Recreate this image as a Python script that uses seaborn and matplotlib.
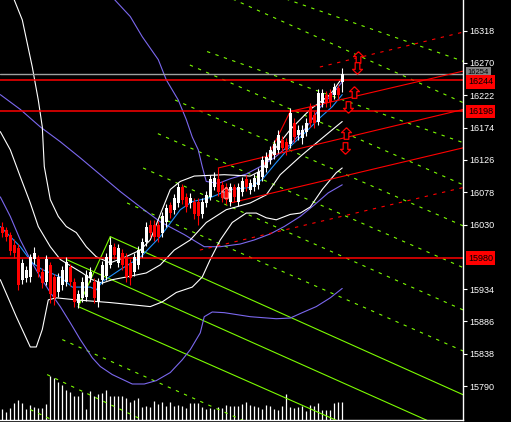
import seaborn as sns
import matplotlib.pyplot as plt
from matplotlib.transforms import blended_transform_factory

# Свечи (индекс бара 0..85)
opens = [16027, 16022, 16015, 16000, 15995, 15948, 15951, 15952, 15978, 15978,
         15960, 15945, 15970, 15952, 15929, 15940, 15945, 15967, 15945, 15914,
         15921, 15923, 15951, 15945, 15915, 15948, 15954, 15970, 15997, 15973,
         15988, 15981, 15973, 15960, 15970, 15988, 16004, 16030, 16030, 16030,
         16018, 16033, 16059, 16052, 16062, 16085, 16071, 16062, 16064, 16064,
         16045, 16062, 16071, 16086, 16097, 16089, 16086, 16064, 16085, 16064,
         16079, 16097, 16082, 16086, 16089, 16101, 16114, 16126, 16134, 16141,
         16156, 16153, 16149, 16181, 16163, 16159, 16168, 16205, 16193, 16183,
         16211, 16223, 16226, 16223, 16233, 16242]
highs = [16033, 16027, 16019, 16008, 16001, 15979, 15968, 15986, 15997, 15985,
         15966, 15984, 15975, 15957, 15958, 15968, 15982, 15972, 15950, 15933,
         15952, 15962, 15967, 15951, 15950, 15976, 15987, 16012, 16003, 16001,
         15994, 15987, 15979, 15988, 15998, 16010, 16033, 16036, 16036, 16035,
         16048, 16061, 16064, 16076, 16092, 16090, 16077, 16077, 16069, 16069,
         16070, 16080, 16103, 16108, 16102, 16094, 16091, 16092, 16090, 16092,
         16100, 16103, 16098, 16105, 16114, 16132, 16137, 16147, 16156, 16170,
         16161, 16159, 16203, 16188, 16178, 16178, 16188, 16211, 16199, 16232,
         16232, 16229, 16231, 16241, 16238, 16263]
lows = [16012, 16005, 15985, 15980, 15933, 15942, 15945, 15945, 15972, 15952,
        15936, 15940, 15914, 15910, 15922, 15933, 15938, 15939, 15908, 15906,
        15915, 15917, 15944, 15913, 15908, 15941, 15948, 15965, 15978, 15967,
        15963, 15944, 15940, 15954, 15964, 15982, 15998, 16012, 16005, 16004,
        16012, 16027, 16040, 16046, 16056, 16060, 16049, 16055, 16038, 16030,
        16039, 16056, 16066, 16081, 16072, 16063, 16060, 16058, 16064, 16058,
        16073, 16080, 16076, 16080, 16083, 16095, 16108, 16120, 16128, 16136,
        16138, 16134, 16143, 16153, 16155, 16150, 16162, 16175, 16174, 16178,
        16205, 16204, 16205, 16217, 16217, 16227]
closes = [16018, 16012, 15990, 15988, 15940, 15973, 15963, 15981, 15988, 15960,
          15943, 15978, 15926, 15921, 15952, 15963, 15975, 15945, 15915, 15926,
          15945, 15955, 15960, 15921, 15945, 15970, 15981, 16000, 15985, 15995,
          15970, 15952, 15951, 15982, 15992, 16004, 16027, 16018, 16012, 16012,
          16042, 16055, 16047, 16070, 16086, 16067, 16056, 16070, 16045, 16042,
          16064, 16074, 16097, 16099, 16079, 16070, 16067, 16086, 16071, 16086,
          16094, 16086, 16092, 16099, 16108, 16126, 16131, 16141, 16149, 16163,
          16144, 16141, 16196, 16160, 16171, 16171, 16181, 16181, 16181, 16226,
          16226, 16211, 16212, 16235, 16223, 16254]
volumes = [110, 80, 120, 170, 200, 170, 110, 150, 130, 120, 120, 160,
           440, 420, 380, 350, 300, 280, 240, 240, 280,
           110, 290, 240, 260, 270, 300, 240, 240, 240, 240,
           220, 180, 200, 220, 130, 140, 130, 190, 160, 180,
           140, 180, 140, 150, 140, 120, 170, 170, 170, 130,
           110, 120, 110, 130, 120, 150, 140, 140, 140, 160,
           180, 150, 140, 130, 110, 150, 140, 110, 100, 140,
           260, 130, 120, 130, 140, 90, 150, 140, 170, 100,
           100, 100, 170, 180, 180]

# Полосы Боллинджера (белые и синяя)
bb_up_x = [2.5, 5, 7.5, 9, 10, 10.5, 12, 14, 16, 18.5, 21, 23.5, 27, 30.5, 34.5, 37, 39.5,
           42, 44.5, 48, 55.5, 62, 65, 68, 72, 77, 82, 85]
bb_up_y = [16371, 16334, 16264, 16215, 16175, 16116, 16067, 16042, 16027, 16018, 15997, 15982,
           15973, 15981, 15992, 16007, 16045, 16082, 16094, 16102, 16104, 16102, 16111, 16141,
           16171, 16201, 16223, 16248]
bb_mid_x = [-0.5, 2, 4.5, 7.5, 10, 14.5, 17.5, 22, 23.5, 25, 29.5, 34.5, 39.5, 44.5, 47.5,
            52, 57, 62, 65, 68.5, 72, 76, 79.5, 82.5, 85]
bb_mid_y = [16027, 16012, 15997, 15973, 15963, 15952, 15937, 15937, 15933, 15945, 15963, 15981,
            16012, 16052, 16064, 16070, 16082, 16085, 16097, 16122, 16146, 16168, 16189, 16205, 16223]
bb_low_x = [-0.5, 2, 4.5, 7, 9, 12, 14.5, 17.5, 20, 22.5, 25, 27.5, 31, 36, 39.5, 43, 47, 51,
            56, 62, 66, 69.5, 74.5, 79.5, 85]
bb_low_y = [16168, 16141, 16101, 16062, 16027, 15997, 15978, 15967, 15958, 15948, 15943, 15948,
            15952, 15958, 15970, 15992, 16007, 16033, 16052, 16062, 16074, 16104, 16131, 16156, 16183]
env_x = [-0.5, 3.5, 7, 8.5, 10, 11.5, 13.5, 18.5, 27, 32, 37, 40, 43.5, 47.5, 50, 52, 54.5,
         57.5, 61, 63.5, 66, 68.5, 72, 74.5, 77, 80, 83.5, 85]
env_y = [15948, 15893, 15848, 15848, 15874, 15918, 15921, 15918, 15914, 15911, 15908, 15915,
         15929, 15937, 15952, 15978, 16007, 16033, 16047, 16047, 16040, 16037, 16045, 16047,
         16056, 16082, 16107, 16114]

# Длинные полосы (фиолетовые)
pu_x = [27, 32, 35, 39, 41, 44, 46, 47.5, 49, 50, 51, 54, 57, 61, 64.5, 68, 72, 76, 79.5, 83, 85]
pu_y = [16371, 16339, 16309, 16275, 16245, 16215, 16186, 16160, 16141, 16116, 16094, 16091,
        16098, 16105, 16116, 16129, 16149, 16174, 16204, 16227, 16242]
pm_x = [-0.5, 4.5, 9.5, 14.5, 19.5, 24.5, 29.5, 34.5, 39.5, 45.5, 50.5, 54.5, 59.5, 63, 67,
        70.5, 74.5, 78, 81.5, 85]
pm_y = [16223, 16201, 16175, 16153, 16129, 16104, 16079, 16056, 16034, 16015, 15997, 15997,
        16001, 16007, 16016, 16027, 16042, 16059, 16077, 16089]
pl_x = [-0.5, 2, 4.5, 7, 9.5, 12, 14.5, 17, 19.5, 22.5, 24.5, 27.5, 32.5, 35.5, 38.5, 42, 45,
        47, 49.5, 50.5, 52.5, 55.5, 62, 68.5, 72, 75, 78.5, 82, 85]
pl_y = [16071, 16042, 16007, 15978, 15952, 15929, 15908, 15884, 15859, 15832, 15819, 15807,
        15793, 15793, 15798, 15810, 15829, 15844, 15869, 15893, 15900, 15899, 15893, 15890,
        15891, 15899, 15908, 15921, 15935]

# Зелёные линии (вилы)
green_solid = [([19, 27], [15908, 16012]),
               ([27, 116], [16012, 15775]),
               ([16, 116], [15978, 15713]),
               ([19, 116], [15908, 15654])]
green_dash_start = [59.5, 55, 51.2, 46.9, 43.2, 38.9, 35.2, 31.2, 15, 11.2, 7]
green_dash_end_x = [116, 116, 116, 116, 116, 116, 116, 116, 62, 36, 12]
green_dash_start_y = [16389, 16372, 16287, 16267, 16215, 16165, 16114, 16062, 15859, 15807, 15755]
green_dash_end_y = [16271, 16209, 16150, 16087, 16026, 15964, 15901, 15840, 15734, 15737, 15741]

# Красные линии
red_levels = [16244, 16198, 15980]
bid_level = 16254
red_solid = [([54, 116], [16114, 16202]),
             ([57, 116], [16062, 16145]),
             ([72, 116], [16198, 16259]),
             ([65, 72], [16114, 16198]),
             ([54, 54], [16114, 16092])]
red_dash = [([79.4, 116], [16264, 16317]),
            ([49.4, 116], [15992, 16086])]
arrows_up_x = [89, 88, 86]
arrows_up_y = [16279, 16227, 16166]
arrows_down_x = [88.7, 86.5, 85.7]
arrows_down_y = [16263, 16205, 16144]

yticks = [15790, 15838, 15886, 15934, 16030, 16078, 16126, 16174, 16222, 16270, 16318]

sns.set_theme(style="dark", rc={"axes.facecolor": "black", "figure.facecolor": "black"})
plt.rcParams['font.family'] = ['Liberation Sans', 'DejaVu Sans']

fig = plt.figure(figsize=(5.11, 4.22), dpi=100, facecolor="black")
ax = fig.add_axes([0, 2 / 422, 463 / 511, 420 / 422])
vol_ax = ax.twinx()
ax.set_zorder(2)
ax.patch.set_visible(False)
vol_ax.set_zorder(1)

idx = list(range(len(opens)))
lw = 0.8

# объём
vol_ax.vlines(idx, 0, volumes, colors="white", linewidth=0.9)
vol_ax.set_ylim(0, 4200)
vol_ax.set_yticks([])
for s in vol_ax.spines.values():
    s.set_visible(False)


def line(xs, ys, color, dashed=False):
    kw = {"linestyle": (0, (3, 5))} if dashed else {}
    sns.lineplot(x=xs, y=ys, ax=ax, color=color, linewidth=lw, estimator=None, sort=False, **kw)


purple = "#7b68ee"
green = "#7cfc00"
for xs, ys in green_solid:
    line(xs, ys, green)
for x0, x1, y0, y1 in zip(green_dash_start, green_dash_end_x, green_dash_start_y, green_dash_end_y):
    line([x0, x1], [y0, y1], green, dashed=True)

line(pu_x, pu_y, purple)
line(pm_x, pm_y, purple)
line(pl_x, pl_y, purple)
line(bb_up_x, bb_up_y, "white")
line(bb_low_x, bb_low_y, "white")
line(env_x, env_y, "white")
line(bb_mid_x, bb_mid_y, "#1e90ff")

ax.axhline(bid_level, color="#a0a0a0", linewidth=1.0)
for lv in red_levels:
    ax.axhline(lv, color="red", linewidth=1.1)
for xs, ys in red_solid:
    line(xs, ys, "red")
for xs, ys in red_dash:
    line(xs, ys, "red", dashed=True)

# свечи
cols = ["white" if c >= o else "red" for o, c in zip(opens, closes)]
ax.vlines(idx, lows, highs, colors=cols, linewidth=lw, zorder=4)
bottoms = [min(o, c) for o, c in zip(opens, closes)]
heights = [max(abs(c - o), 1.5) for o, c in zip(opens, closes)]
ax.bar(idx, heights, bottom=bottoms, width=0.72, color=cols, linewidth=0, zorder=5)

# стрелки-сигналы (контурные)
up_arrow = [(0, 1), (0.85, 0.15), (0.4, 0.15), (0.4, -1), (-0.4, -1), (-0.4, 0.15),
            (-0.85, 0.15), (0, 1)]
down_arrow = [(x, -y) for x, y in up_arrow]
ax.scatter(arrows_up_x, arrows_up_y, marker=up_arrow, s=70, facecolors="black",
           edgecolors="red", linewidths=0.9, zorder=6)
ax.scatter(arrows_down_x, arrows_down_y, marker=down_arrow, s=70, facecolors="black",
           edgecolors="red", linewidths=0.9, zorder=6)
ax.scatter([56], [16077], marker=up_arrow, s=60, facecolors="none",
           edgecolors="#ff9090", linewidths=0.8, zorder=6)

ax.set_xlim(-0.575, 115.2)
ax.set_ylim(15739.5, 16363.6)
ax.set_xticks([])
ax.yaxis.tick_right()
ax.set_yticks(yticks)
ax.set_yticklabels([str(t) for t in yticks])
ax.tick_params(axis="y", colors="white", labelcolor="white", length=3, width=0.8,
               pad=1.5, labelsize=6.5, direction="out")
ax.grid(False)
for name, s in ax.spines.items():
    s.set_visible(name in ("right", "bottom"))
    s.set_color("white")
    s.set_linewidth(1.0)

# метки уровней справа (серая — bid, частично под красной 16244)
tr = blended_transform_factory(ax.transAxes, ax.transData)
box_labels = [(16254, 16256, "#808080", 5.5), (16244, 16242, "red", 6.5),
              (16198, 16198, "red", 6.5), (15980, 15980, "red", 6.5)]
for val, ypos, fc, fs in box_labels:
    ax.text(1.0105, ypos, str(val), transform=tr, ha="left", va="center", fontsize=fs,
            color="black", zorder=10,
            bbox=dict(boxstyle="square,pad=0.25", fc=fc, ec="none"))

fig.savefig("out.png", dpi=100, facecolor="black")
